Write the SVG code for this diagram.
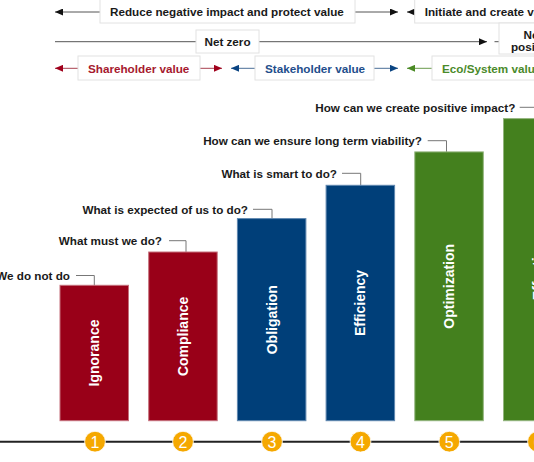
<svg xmlns="http://www.w3.org/2000/svg" width="534" height="462" viewBox="0 0 534 462">
<style>
text{font-family:"Liberation Sans",Arial,sans-serif}
.h{font-size:11.7px;font-weight:bold;fill:#1a1a1a}
.q{font-size:11.7px;font-weight:bold;fill:#1a1a1a;text-anchor:end}
.bl{font-size:14px;font-weight:bold;fill:#fff;text-anchor:middle;dominant-baseline:central}
.num{font-size:16px;fill:#fff;text-anchor:middle}
.box{fill:#fff;stroke:#e2e2e2;stroke-width:1}
.ln{stroke:#555;stroke-width:1;fill:none}
.lr{stroke:#a8404f;stroke-width:1;fill:none}
.lb{stroke:#4a6f98;stroke-width:1;fill:none}
.lg{stroke:#6a9a4c;stroke-width:1;fill:none}
.lead{stroke:#777;stroke-width:1;fill:none}
.red{fill:#990018;stroke:#c5707c;stroke-width:1}
.blue{fill:#003f79;stroke:#5f87b0;stroke-width:1}
.green{fill:#44801e;stroke:#93b57d;stroke-width:1}
.circ{fill:#f5a800;stroke:#fff;stroke-width:0.8}
</style>
<defs>
<marker id="ak" markerUnits="userSpaceOnUse" markerWidth="8" markerHeight="7" refX="8" refY="3.5" orient="auto"><path d="M0,0 L8,3.5 L0,7 z" fill="#111"/></marker>
<marker id="ar" markerUnits="userSpaceOnUse" markerWidth="8" markerHeight="7" refX="8" refY="3.5" orient="auto"><path d="M0,0 L8,3.5 L0,7 z" fill="#a0001c"/></marker>
<marker id="ab" markerUnits="userSpaceOnUse" markerWidth="8" markerHeight="7" refX="8" refY="3.5" orient="auto"><path d="M0,0 L8,3.5 L0,7 z" fill="#0a4482"/></marker>
<marker id="ag" markerUnits="userSpaceOnUse" markerWidth="8" markerHeight="7" refX="8" refY="3.5" orient="auto"><path d="M0,0 L8,3.5 L0,7 z" fill="#4a8a24"/></marker>
</defs>
<rect width="534" height="462" fill="#fff"/>

<g id="connectors">
<line class="ln" x1="100" y1="12" x2="55" y2="12" marker-end="url(#ak)"/>
<line class="ln" x1="355" y1="12" x2="398" y2="12" marker-end="url(#ak)"/>
<line class="ln" x1="414.5" y1="12" x2="407" y2="12" marker-end="url(#ak)"/>
<line class="ln" x1="55" y1="41.7" x2="196" y2="41.7"/>
<line class="ln" x1="259" y1="41.7" x2="487" y2="41.7" marker-end="url(#ak)"/>
<line class="ln" x1="494.5" y1="41.7" x2="499" y2="41.7"/>
<line class="lr" x1="78" y1="68.3" x2="55" y2="68.3" marker-end="url(#ar)"/>
<line class="lr" x1="200" y1="68.3" x2="222" y2="68.3" marker-end="url(#ar)"/>
<line class="lb" x1="255" y1="68.3" x2="231" y2="68.3" marker-end="url(#ab)"/>
<line class="lb" x1="374" y1="68.3" x2="398" y2="68.3" marker-end="url(#ab)"/>
<line class="lg" x1="432" y1="68.3" x2="407" y2="68.3" marker-end="url(#ag)"/>
<path class="lead" d="M76,275.5 H94.3 V296.5"/>
<path class="lead" d="M169,240.7 H186 V262.7"/>
<path class="lead" d="M253,209.3 H272 V231.7"/>
<path class="lead" d="M342,173.3 H360.7 V195.7"/>
<path class="lead" d="M427.7,140.7 H446.5 V162.3"/>
<path class="lead" d="M519.7,107.3 H537.8 V129.5"/>
<line x1="0" y1="441.7" x2="534" y2="441.7" stroke="#222" stroke-width="2"/>
</g>

<g id="hdr-reduce"><rect class="box" x="100" y="-2" width="255" height="25"/><text class="h" x="110" y="16.2">Reduce negative impact and protect value</text></g>
<g id="hdr-initiate"><rect class="box" x="414.7" y="-2" width="130" height="25"/><text class="h" x="424.7" y="16.2">Initiate and create value</text></g>
<g id="hdr-netzero"><rect class="box" x="196" y="30" width="63" height="23"/><text class="h" x="227.5" y="45.9" text-anchor="middle">Net zero</text></g>
<g id="hdr-netpositive"><rect class="box" x="499" y="23" width="45" height="31"/><text class="h" x="533" y="39.2" text-anchor="middle">Net</text><text class="h" x="533" y="51.2" text-anchor="middle">positive</text></g>
<g id="hdr-shareholder"><rect class="box" x="78" y="56" width="122" height="24"/><text class="h" x="88" y="72.5" style="fill:#a6192e">Shareholder value</text></g>
<g id="hdr-stakeholder"><rect class="box" x="255" y="56" width="119" height="24"/><text class="h" x="265" y="72.5" style="fill:#1f4e8c">Stakeholder value</text></g>
<g id="hdr-eco"><rect class="box" x="432" y="56" width="110" height="24"/><text class="h" x="442" y="72.5" style="fill:#4a8a2a">Eco/System value</text></g>

<g id="q1"><text class="q" x="70" y="279.7">We do not do</text></g>
<g id="q2"><text class="q" x="162" y="244.9">What must we do?</text></g>
<g id="q3"><text class="q" x="248" y="213.5">What is expected of us to do?</text></g>
<g id="q4"><text class="q" x="337" y="177.5">What is smart to do?</text></g>
<g id="q5"><text class="q" x="422" y="144.9">How can we ensure long term viability?</text></g>
<g id="q6"><text class="q" x="515.3" y="111.5">How can we create positive impact?</text></g>

<g id="bar1"><rect class="red" x="60" y="285.3" width="68.5" height="135.4"/><text class="bl" transform="translate(94.3,353) rotate(-90)">Ignorance</text></g>
<g id="bar2"><rect class="red" x="148.7" y="252" width="68.5" height="168.7"/><text class="bl" transform="translate(183,336.4) rotate(-90)">Compliance</text></g>
<g id="bar3"><rect class="blue" x="237.4" y="218.6" width="68.5" height="202.1"/><text class="bl" transform="translate(271.7,319.7) rotate(-90)">Obligation</text></g>
<g id="bar4"><rect class="blue" x="326.1" y="185.3" width="68.5" height="235.4"/><text class="bl" transform="translate(360.4,303) rotate(-90)">Efficiency</text></g>
<g id="bar5"><rect class="green" x="414.8" y="151.9" width="68.5" height="268.8"/><text class="bl" transform="translate(449.1,286.3) rotate(-90)">Optimization</text></g>
<g id="bar6"><rect class="green" x="503.5" y="118.6" width="68.5" height="302.1"/><text class="bl" transform="translate(537.8,255) rotate(-90)">Effectiveness</text></g>

<g id="n1"><circle class="circ" cx="95" cy="441.7" r="10.4"/><text class="num" x="95" y="447.5">1</text></g>
<g id="n2"><circle class="circ" cx="183" cy="441.7" r="10.4"/><text class="num" x="183" y="447.5">2</text></g>
<g id="n3"><circle class="circ" cx="272" cy="441.7" r="10.4"/><text class="num" x="272" y="447.5">3</text></g>
<g id="n4"><circle class="circ" cx="360.5" cy="441.7" r="10.4"/><text class="num" x="360.5" y="447.5">4</text></g>
<g id="n5"><circle class="circ" cx="449.3" cy="441.7" r="10.4"/><text class="num" x="449.3" y="447.5">5</text></g>
<g id="n6"><circle class="circ" cx="538" cy="441.7" r="10.4"/><text class="num" x="538" y="447.5">6</text></g>
</svg>
